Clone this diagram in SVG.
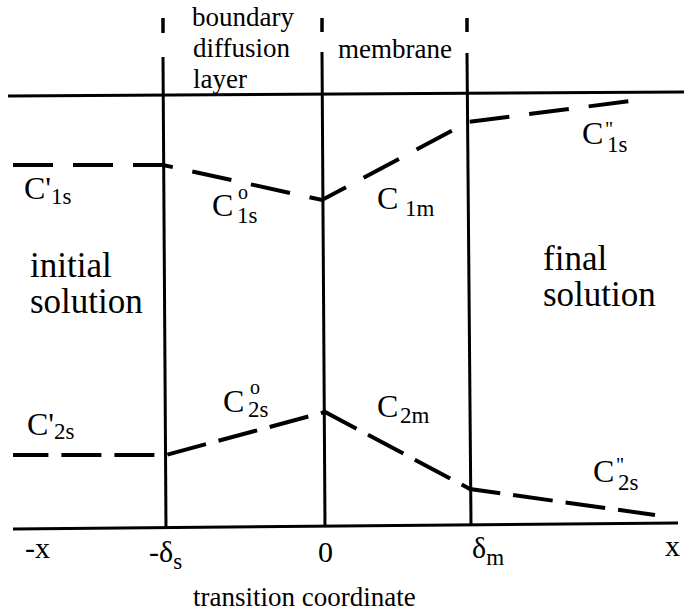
<svg xmlns="http://www.w3.org/2000/svg" width="690" height="615" viewBox="0 0 690 615">
<style>
text{font-family:'Liberation Serif','Times New Roman',serif;fill:#000}
.t{font-size:27px}
.big{font-size:35px}
.c{font-size:32px}
.s{font-size:23px}
.o{font-size:20px}
.q{font-size:20px}
.ax{font-size:30px}
.line{stroke:#000;stroke-width:3;fill:none}
.tick{stroke:#000;stroke-width:3.5;fill:none}
.prof{stroke:#000;stroke-width:4;fill:none}
</style>
<rect width="690" height="615" fill="#fff"/>
<g id="connectors">
  <line class="line" x1="8" y1="96" x2="684" y2="92"/>
  <line class="line" x1="13" y1="529" x2="678" y2="523"/>
  <line class="tick" x1="163" y1="18" x2="163" y2="33"/>
  <line class="line" x1="163" y1="57" x2="166" y2="529"/>
  <line class="tick" x1="322" y1="18" x2="322" y2="32"/>
  <line class="line" x1="322" y1="52" x2="325" y2="527"/>
  <line class="tick" x1="467" y1="18" x2="467" y2="32"/>
  <line class="line" x1="467" y1="53" x2="471" y2="524"/>
  <polyline class="prof" points="13,165 163,165 322,200 468,122 630,101" stroke-dasharray="40 20"/>
  <polyline class="prof" points="13,455 166,455 325,412 470,489 655,515" stroke-dasharray="40 13" stroke-dashoffset="4.6"/>
</g>
<g id="region-labels">
  <text class="t" x="192" y="26">boundary</text>
  <text class="t" x="193" y="57">diffusion</text>
  <text class="t" x="193" y="88">layer</text>
  <text class="t" x="338" y="58">membrane</text>
  <text class="big" x="30" y="277">initial</text>
  <text class="big" x="30" y="313">solution</text>
  <text class="big" x="543" y="270">final</text>
  <text class="big" x="543" y="306">solution</text>
</g>
<g id="c1-labels">
  <text class="c" x="24" y="199">C<tspan>'</tspan><tspan class="s" dy="5">1s</tspan></text>
  <text class="c" x="212" y="216">C<tspan class="o" x="238" y="199">o</tspan><tspan class="s" x="237" y="223">1s</tspan></text>
  <text class="c" x="377" y="209">C<tspan class="s" x="405" y="216">1m</tspan></text>
  <text class="c" x="582" y="144">C<tspan class="q" x="605" y="136">"</tspan><tspan class="s" x="607" y="152">1s</tspan></text>
</g>
<g id="c2-labels">
  <text class="c" x="27" y="435">C<tspan>'</tspan><tspan class="s" dy="4">2s</tspan></text>
  <text class="c" x="223" y="412">C<tspan class="o" x="250" y="394">o</tspan><tspan class="s" x="248" y="417">2s</tspan></text>
  <text class="c" x="377" y="417">C<tspan class="s" x="400" y="423">2m</tspan></text>
  <text class="c" x="593" y="482">C<tspan class="q" x="616" y="472">"</tspan><tspan class="s" x="618" y="490">2s</tspan></text>
</g>
<g id="axis-labels">
  <text class="ax" x="25" y="558">-x</text>
  <text class="ax" x="149" y="562">-δ<tspan class="s" dy="7">s</tspan></text>
  <text class="ax" x="318" y="562">0</text>
  <text class="ax" x="472" y="558">δ<tspan class="s" dy="7">m</tspan></text>
  <text class="ax" x="665" y="556">x</text>
  <text class="t" x="193" y="606">transition coordinate</text>
</g>
</svg>
